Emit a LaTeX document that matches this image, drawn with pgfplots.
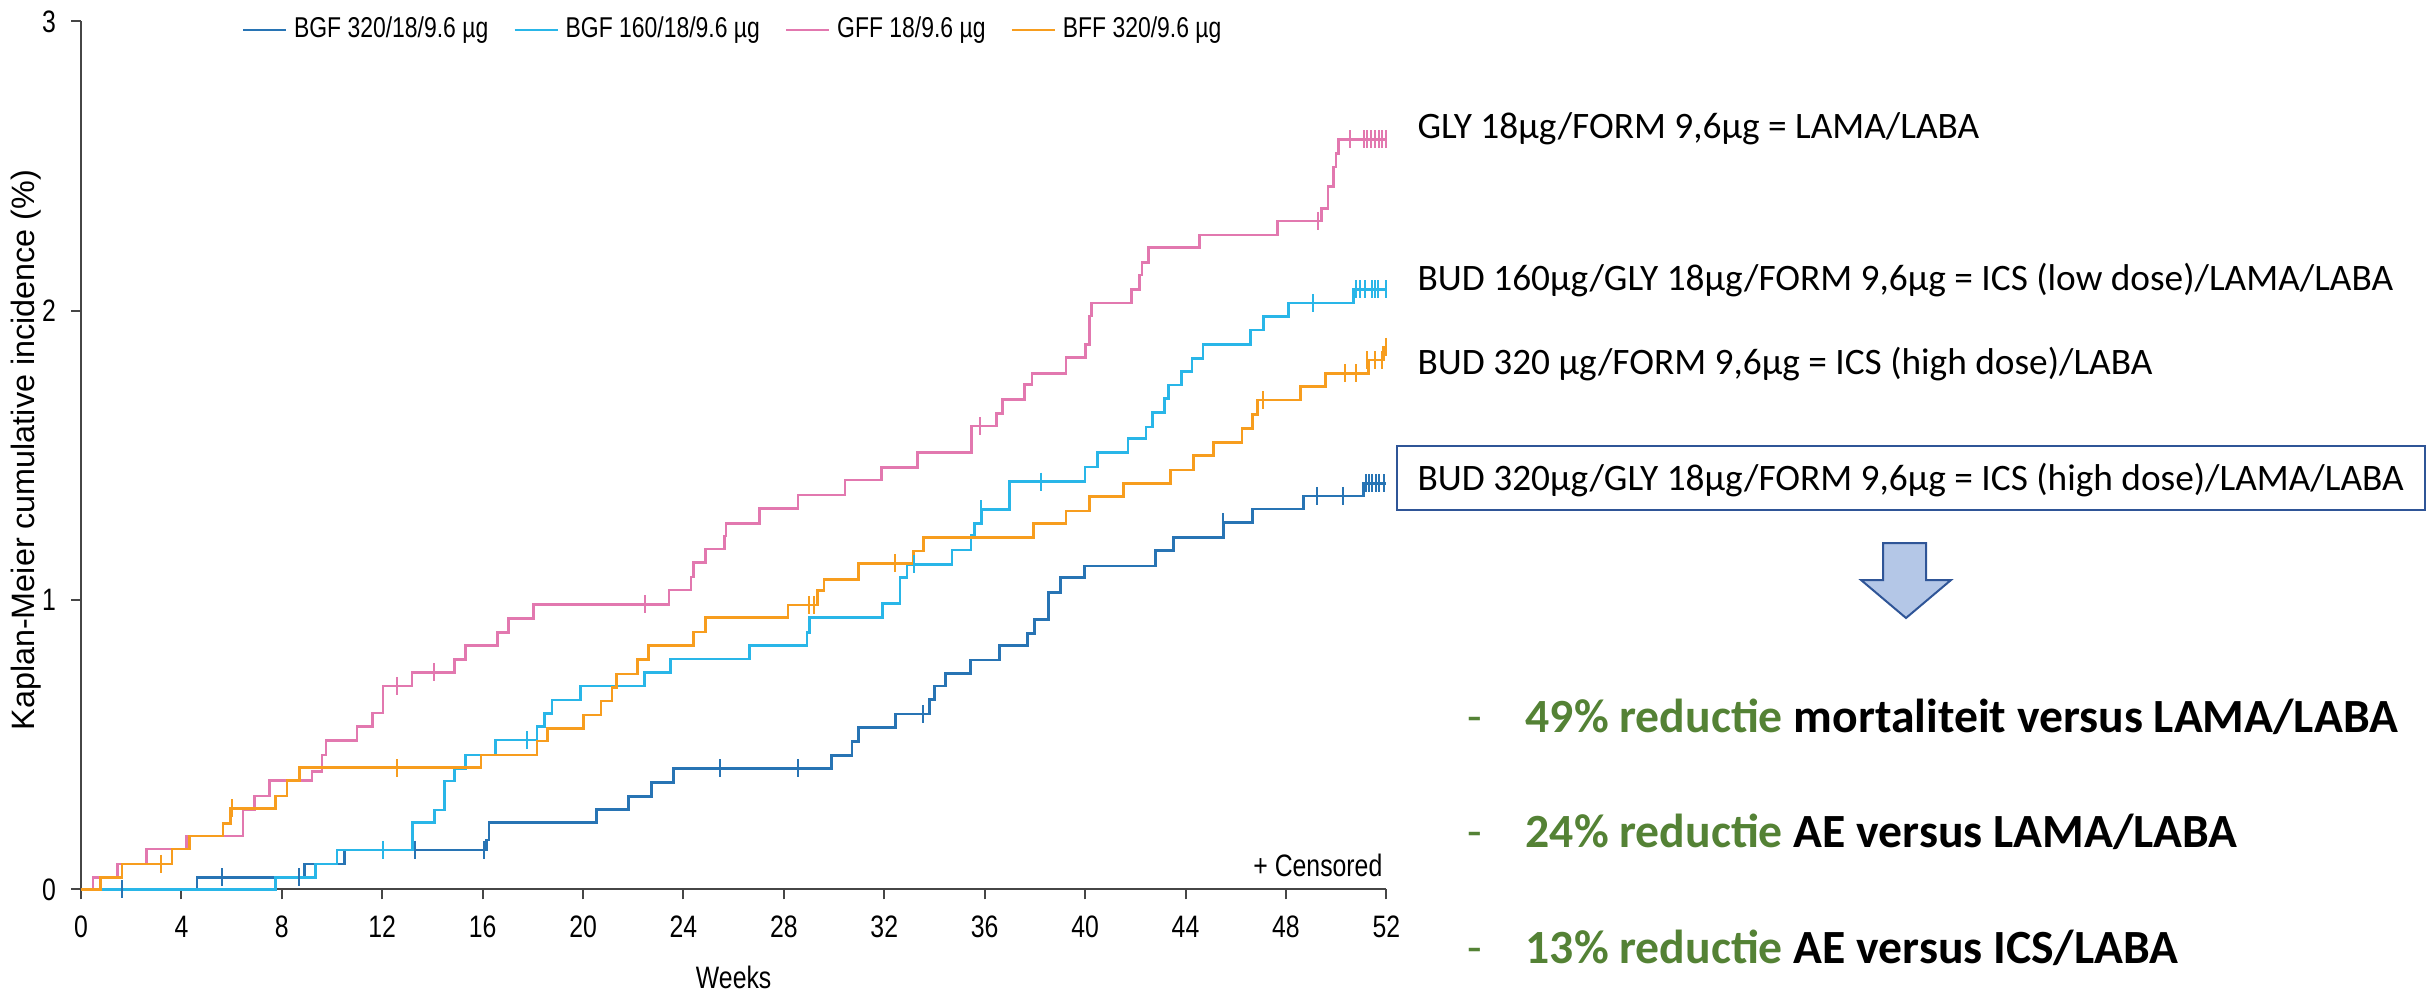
\documentclass[border=0pt]{standalone}
\usepackage{fontspec}
\setmainfont{Liberation Sans}
\newfontfamily\calibri{Carlito}
\newfontfamily\narrowsans{Liberation Sans}[FakeStretch=0.8]
\usepackage{pgfplots}
\pgfplotsset{compat=1.18}
\definecolor{cdark}{RGB}{40,116,180}
\definecolor{clight}{RGB}{41,182,232}
\definecolor{cpink}{RGB}{226,120,175}
\definecolor{corange}{RGB}{247,157,30}
\definecolor{kgreen}{RGB}{84,130,53}
\definecolor{boxblue}{RGB}{47,85,151}
\definecolor{arrowfill}{RGB}{180,199,231}
\definecolor{axisgray}{RGB}{70,70,70}
\begin{document}
\begin{tikzpicture}
\useasboundingbox (0,0) rectangle (730.5pt,297.9pt);
\begin{axis}[
  at={(24.3pt,31.1pt)}, anchor=south west,
  scale only axis, width=391.6pt, height=260.4pt,
  xmin=0, xmax=52, ymin=0, ymax=3,
  axis lines=left, axis line style={-, line width=0.6pt, color=axisgray},
  xtick={0,4,...,52}, ytick={0,1,2,3},
  tick align=outside, major tick length=3pt,
  tick style={line width=0.6pt, color=axisgray},
  /pgf/number format/assume math mode=true,
  ticklabel style={font=\narrowsans\fontsize{9.3}{10}\selectfont, text=black},
  xticklabel style={yshift=-1.5pt},
  yticklabel style={xshift=-1pt},
  xlabel={\narrowsans\fontsize{9.3}{10}\selectfont Weeks},
  xlabel style={at={(axis description cs:0.5,-0.101)}, anchor=center},
  ylabel={\fontsize{9.7}{11}\selectfont Kaplan-Meier cumulative incidence (\%)},
  ylabel style={at={(axis description cs:-0.0421,0.506)}, anchor=center},
  clip=false,
  legend columns=4,
  legend style={draw=none, fill=none, at={(axis description cs:0.1226,0.99)}, anchor=west,
    inner sep=0pt, font=\narrowsans\fontsize{8.6}{10}\selectfont,
    /tikz/every even column/.append style={column sep=5.5pt}},
  legend cell align=left,
  legend image code/.code={\draw[#1] (0pt,0pt) -- (12.9pt,0pt);},
  every axis plot/.append style={line width=0.8pt},
]
% BGF 320/18/9.6
\addplot[const plot, color=cdark] coordinates {
(0,0) (4.62,0.041) (8.9,0.088) (10.5,0.136) (16.15,0.17) (16.25,0.23)
(20.53,0.276) (21.82,0.32) (22.72,0.369) (23.61,0.418) (29.89,0.462)
(30.72,0.51) (30.98,0.559) (32.44,0.606) (33.81,0.655) (34.01,0.703)
(34.43,0.747) (35.43,0.793) (36.59,0.842) (37.71,0.885) (37.98,0.933)
(38.55,1.026) (39.01,1.078) (39.98,1.118) (42.8,1.171) (43.53,1.216)
(45.52,1.268) (46.68,1.315) (48.71,1.36) (51.1,1.403) (52.0,1.403)};
\addlegendentry{BGF 320/18/9.6 µg}
% BGF 160/18/9.6
\addplot[const plot, color=clight] coordinates {
(0,0) (7.74,0.041) (9.34,0.088) (10.2,0.136) (13.2,0.23) (14.08,0.274)
(14.47,0.374) (14.87,0.418) (15.31,0.464) (16.5,0.516) (18.17,0.562)
(18.47,0.608) (18.76,0.654) (19.89,0.703) (22.45,0.75) (23.48,0.796)
(26.63,0.842) (28.92,0.888) (29.02,0.939) (31.92,0.987) (32.62,1.078)
(32.91,1.123) (34.7,1.173) (35.46,1.225) (35.59,1.265) (35.87,1.313)
(36.98,1.409) (39.99,1.46) (40.5,1.51) (41.71,1.559) (42.43,1.598)
(42.69,1.647) (43.15,1.697) (43.33,1.743) (43.84,1.789) (44.26,1.835)
(44.7,1.884) (46.58,1.933) (47.11,1.98) (48.11,2.026) (50.7,2.074) (52.0,2.074)};
\addlegendentry{BGF 160/18/9.6 µg}
% GFF 18/9.6
\addplot[const plot, color=cpink] coordinates {
(0,0) (0.48,0.041) (1.46,0.088) (2.6,0.139) (4.2,0.184) (6.45,0.276)
(6.9,0.323) (7.5,0.376) (9.2,0.407) (9.6,0.464) (9.76,0.515) (11.0,0.562)
(11.6,0.61) (12.03,0.703) (13.18,0.75) (14.87,0.795) (15.31,0.842)
(16.6,0.887) (17.04,0.937) (18.03,0.985) (23.42,1.035) (24.3,1.08)
(24.4,1.129) (24.87,1.176) (25.63,1.221) (25.7,1.265) (27.02,1.317)
(28.56,1.363) (30.43,1.415) (31.88,1.459) (33.32,1.509) (35.47,1.601)
(36.47,1.645) (36.7,1.693) (37.58,1.745) (37.89,1.784) (39.24,1.838)
(40.01,1.882) (40.17,1.982) (40.25,2.026) (41.84,2.074) (42.18,2.123)
(42.27,2.167) (42.53,2.218) (44.55,2.262) (47.67,2.31) (49.41,2.354)
(49.68,2.43) (49.9,2.497) (50.0,2.544) (50.1,2.592) (52.0,2.592)};
\addlegendentry{GFF 18/9.6 µg}
% BFF 320/9.6
\addplot[const plot, color=corange] coordinates {
(0,0) (0.77,0.041) (1.63,0.088) (3.63,0.139) (4.33,0.184) (5.66,0.228)
(5.95,0.28) (7.74,0.323) (8.2,0.376) (8.71,0.42) (15.94,0.464)
(18.17,0.513) (18.59,0.555) (20.02,0.603) (20.72,0.651) (21.15,0.697)
(21.33,0.744) (22.18,0.795) (22.62,0.842) (24.41,0.89) (24.87,0.939)
(28.17,0.983) (29.33,1.032) (29.6,1.071) (30.98,1.127) (33.17,1.169)
(33.57,1.217) (37.95,1.265) (39.24,1.308) (40.17,1.357) (41.54,1.403)
(43.39,1.449) (44.33,1.5) (45.12,1.545) (46.25,1.593) (46.68,1.642)
(46.88,1.691) (48.58,1.737) (49.57,1.784) (51.3,1.829) (51.9,1.875) (52.0,1.875)};
\addlegendentry{BFF 320/9.6 µg}
% censor marks
\addplot[forget plot, only marks, mark=|, mark size=2.7pt, color=cdark, mark options={line width=0.6pt}] coordinates {
(1.63,0) (5.6,0.041) (8.7,0.041) (13.32,0.136) (16.07,0.136) (25.44,0.418)
(28.55,0.418) (33.55,0.606) (45.48,1.268) (49.24,1.36) (50.27,1.36)
(51.17,1.403) (51.3,1.403) (51.44,1.403) (51.57,1.403) (51.7,1.403) (51.9,1.403)};
\addplot[forget plot, only marks, mark=|, mark size=2.7pt, color=clight, mark options={line width=0.6pt}] coordinates {
(12.03,0.136) (17.77,0.516) (33.17,1.123) (35.87,1.313) (38.25,1.409)
(49.08,2.026) (50.81,2.074) (50.97,2.074) (51.14,2.074) (51.43,2.074)
(51.56,2.074) (51.67,2.074) (51.97,2.074)};
\addplot[forget plot, only marks, mark=|, mark size=2.7pt, color=cpink, mark options={line width=0.6pt}] coordinates {
(12.6,0.703) (14.05,0.75) (22.45,0.985) (35.8,1.601) (49.28,2.31)
(50.57,2.592) (51.1,2.592) (51.24,2.592) (51.37,2.592) (51.54,2.592)
(51.7,2.592) (51.83,2.592) (51.97,2.592)};
\addplot[forget plot, only marks, mark=|, mark size=2.7pt, color=corange, mark options={line width=0.6pt}] coordinates {
(3.19,0.088) (6.0,0.28) (12.6,0.418) (29.0,0.983) (29.2,0.983)
(32.44,1.127) (47.1,1.691) (50.37,1.784) (50.81,1.784) (51.24,1.829)
(51.56,1.829) (51.83,1.829) (51.97,1.875)};
\end{axis}
% Censored note
\node[anchor=base east, inner sep=0pt, font=\narrowsans\fontsize{9.3}{10}\selectfont] at (414.9pt,35.1pt) {+ Censored};
% right-hand annotations
\begin{scope}[every node/.style={anchor=base west, inner sep=0pt, font=\calibri\fontsize{11.2}{13}\selectfont}]
\node at (425.1pt,256.2pt) {GLY 18µg/FORM 9,6µg = LAMA/LABA};
\node at (425.1pt,210.9pt) {BUD 160µg/GLY 18µg/FORM 9,6µg = ICS (low dose)/LAMA/LABA};
\node at (425.1pt,185.7pt) {BUD 320 µg/FORM 9,6µg = ICS (high dose)/LABA};
\node at (425.1pt,150.9pt) {BUD 320µg/GLY 18µg/FORM 9,6µg = ICS (high dose)/LAMA/LABA};
\end{scope}
\draw[boxblue, line width=0.6pt] (419.1pt,144.9pt) rectangle (727.5pt,164.1pt);
% arrow
\draw[boxblue, line width=0.6pt, fill=arrowfill]
  (564.9pt,135pt) -- (577.8pt,135pt) -- (577.8pt,123.9pt) -- (585.3pt,123.9pt)
  -- (571.8pt,112.5pt) -- (558.3pt,123.9pt) -- (564.9pt,123.9pt) -- cycle;
% conclusions
\begin{scope}[every node/.style={anchor=base west, inner sep=0pt, font=\calibri\bfseries\fontsize{14.3}{16}\selectfont}]
\node[text=kgreen, font=\calibri\fontsize{14.3}{16}\selectfont] at (440.1pt,78.1pt) {-};
\node at (457.5pt,78.1pt) {\textcolor{kgreen}{49\% reductie} mortaliteit versus LAMA/LABA};
\node[text=kgreen, font=\calibri\fontsize{14.3}{16}\selectfont] at (440.1pt,43.6pt) {-};
\node at (457.5pt,43.6pt) {\textcolor{kgreen}{24\% reductie} AE versus LAMA/LABA};
\node[text=kgreen, font=\calibri\fontsize{14.3}{16}\selectfont] at (440.1pt,8.9pt) {-};
\node at (457.5pt,8.9pt) {\textcolor{kgreen}{13\% reductie} AE versus ICS/LABA};
\end{scope}
\end{tikzpicture}
\end{document}
